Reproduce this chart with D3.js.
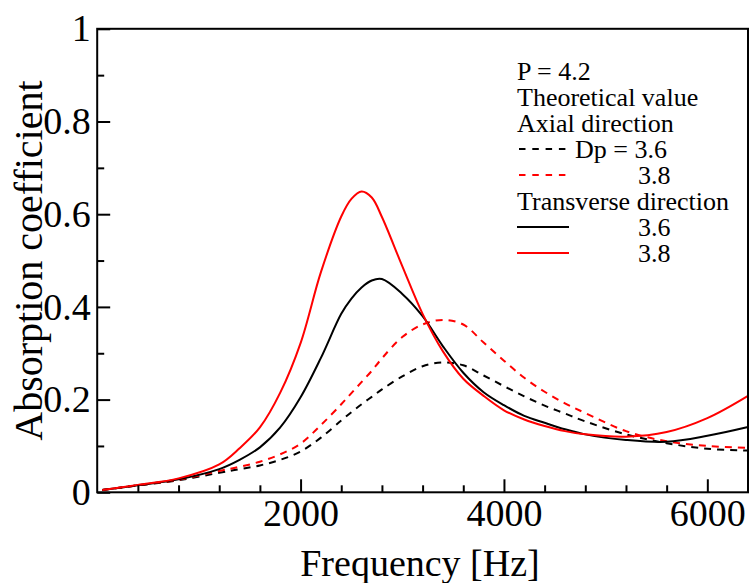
<!DOCTYPE html>
<html>
<head>
<meta charset="utf-8">
<script src="https://cdn.jsdelivr.net/npm/d3@7"></script>
<style>
  body { margin: 0; background: #fff; }
</style>
</head>
<body>
<div id="chart"></div>
<script>
var SERIF = "Liberation Serif";

// frequency grid [Hz] shared by all four curves
var freqs = [50, 400, 800, 1200, 1400, 1600, 1800, 2000, 2200, 2400, 2500, 2600, 2700, 2800,
             3000, 3200, 3400, 3600, 3800, 4000, 4200, 4400, 4600, 4800, 5200, 5600, 6000, 6400];

// axial direction (dashed)
var axial36 = [0.005, 0.015, 0.026, 0.042, 0.050, 0.058, 0.070, 0.088, 0.118, 0.155, 0.173, 0.190, 0.206, 0.222,
               0.250, 0.272, 0.280, 0.274, 0.252, 0.229, 0.207, 0.187, 0.170, 0.153, 0.125, 0.106, 0.094, 0.090];
var axial38 = [0.005, 0.015, 0.027, 0.046, 0.055, 0.066, 0.082, 0.105, 0.145, 0.190, 0.214, 0.238, 0.262, 0.289,
               0.335, 0.362, 0.372, 0.362, 0.323, 0.284, 0.247, 0.217, 0.192, 0.171, 0.132, 0.110, 0.100, 0.096];

// transverse direction (solid)
var trans36 = [0.005, 0.015, 0.028, 0.050, 0.070, 0.097, 0.140, 0.205, 0.290, 0.385, 0.418, 0.442, 0.457, 0.460,
               0.428, 0.380, 0.315, 0.258, 0.216, 0.188, 0.165, 0.150, 0.136, 0.125, 0.113, 0.109, 0.122, 0.141];
var trans38 = [0.005, 0.016, 0.030, 0.060, 0.095, 0.140, 0.215, 0.322, 0.475, 0.595, 0.633, 0.649, 0.636, 0.594,
               0.488, 0.385, 0.304, 0.245, 0.208, 0.177, 0.157, 0.143, 0.132, 0.125, 0.120, 0.130, 0.160, 0.208];

var xMajor = [2000, 4000, 6000];
var xMinor = [400, 800, 1200, 1600, 2400, 2800, 3200, 3600, 4400, 4800, 5200, 5600, 6400];
var yMajor = [0, 0.2, 0.4, 0.6, 0.8, 1];
var yMajorLabels = ["0", "0.2", "0.4", "0.6", "0.8", "1"];
var yMinor = [0.1, 0.3, 0.5, 0.7, 0.9];

var legendHeader = ["P = 4.2", "Theoretical value", "Axial direction"];

var W = 749, H = 583;
var margin = { top: 28.8, right: 1, bottom: 90.7, left: 97.2 };
var width = W - margin.left - margin.right,
    height = H - margin.top - margin.bottom;

var svg = d3.select("#chart").append("svg")
    .attr("width", W)
    .attr("height", H)
    .style("font-family", SERIF);

var g = svg.append("g")
    .attr("transform", "translate(" + margin.left + "," + margin.top + ")");

var x = d3.scaleLinear().domain([0, 6400]).range([0, width]);
var y = d3.scaleLinear().domain([0, 1]).range([height, 0]);

// curves
var series = [
  { vals: axial36, color: "#000", dash: "7,6" },
  { vals: axial38, color: "#ff0000", dash: "7,6" },
  { vals: trans36, color: "#000", dash: null },
  { vals: trans38, color: "#ff0000", dash: null }
];

var line = d3.line()
    .curve(d3.curveCatmullRom.alpha(0.5))
    .x(function(d) { return x(d[0]); })
    .y(function(d) { return y(d[1]); });

series.forEach(function(s) {
  g.append("path")
      .datum(freqs.map(function(f, i) { return [f, s.vals[i]]; }))
      .attr("fill", "none")
      .attr("stroke", s.color)
      .attr("stroke-width", 2)
      .attr("stroke-dasharray", s.dash)
      .attr("d", line);
});

// axes, ticks pointing inward
function styleAxis(sel) {
  sel.attr("font-family", SERIF).attr("font-size", 38);
  sel.select(".domain").remove();
  sel.selectAll("line").attr("stroke", "#000").attr("stroke-width", 2);
  sel.selectAll("text").attr("fill", "#000");
}

var xAxis = g.append("g")
    .attr("transform", "translate(0," + height + ")")
    .call(d3.axisBottom(x).tickValues(xMajor).tickSize(-13).tickFormat(d3.format("d")));
xAxis.call(styleAxis);
xAxis.selectAll("text").attr("y", 34).attr("dy", 0);

g.append("g")
    .attr("transform", "translate(0," + height + ")")
    .call(d3.axisBottom(x).tickValues(xMinor).tickSize(-7).tickFormat(""))
    .call(styleAxis);

var yAxis = g.append("g")
    .call(d3.axisLeft(y).tickValues(yMajor).tickSize(-13).tickPadding(6.5)
      .tickFormat(function(d, i) { return yMajorLabels[i]; }));
yAxis.call(styleAxis);

g.append("g")
    .call(d3.axisLeft(y).tickValues(yMinor).tickSize(-7).tickFormat(""))
    .call(styleAxis);

// frame
g.append("rect")
    .attr("width", width)
    .attr("height", height)
    .attr("fill", "none")
    .attr("stroke", "#000")
    .attr("stroke-width", 2);

// axis titles
svg.append("text")
    .attr("x", 420)
    .attr("y", 576)
    .attr("text-anchor", "middle")
    .attr("font-family", SERIF)
    .attr("font-size", 38)
    .text("Frequency [Hz]");

svg.append("text")
    .attr("transform", "translate(42," + (margin.top + height / 2) + ") rotate(-90)")
    .attr("text-anchor", "middle")
    .attr("font-family", SERIF)
    .attr("font-size", 40)
    .text("Absorption coefficient");

// legend
var lx = 517, lx2 = 569, step = 26, base = 80;
var legend = svg.append("g")
    .attr("font-family", SERIF)
    .attr("font-size", 26);

legendHeader.forEach(function(t, i) {
  legend.append("text").attr("x", lx).attr("y", base + i * step).text(t);
});

legend.append("text").attr("x", lx).attr("y", base + 5 * step).text("Transverse direction");

var entries = [
  { row: 3, color: "#000", dash: "6.5,6.8", label: "Dp = 3.6", tx: 575 },
  { row: 4, color: "#ff0000", dash: "6.5,6.8", label: "3.8", tx: 638 },
  { row: 6, color: "#000", dash: null, label: "3.6", tx: 638 },
  { row: 7, color: "#ff0000", dash: null, label: "3.8", tx: 638 }
];

entries.forEach(function(e) {
  var by = base + e.row * step;
  legend.append("line")
      .attr("x1", e.dash ? lx + 2 : lx).attr("x2", lx2)
      .attr("y1", by - 9).attr("y2", by - 9)
      .attr("stroke", e.color)
      .attr("stroke-width", 2)
      .attr("stroke-dasharray", e.dash);
  legend.append("text").attr("x", e.tx).attr("y", by).text(e.label);
});
</script>
</body>
</html>
